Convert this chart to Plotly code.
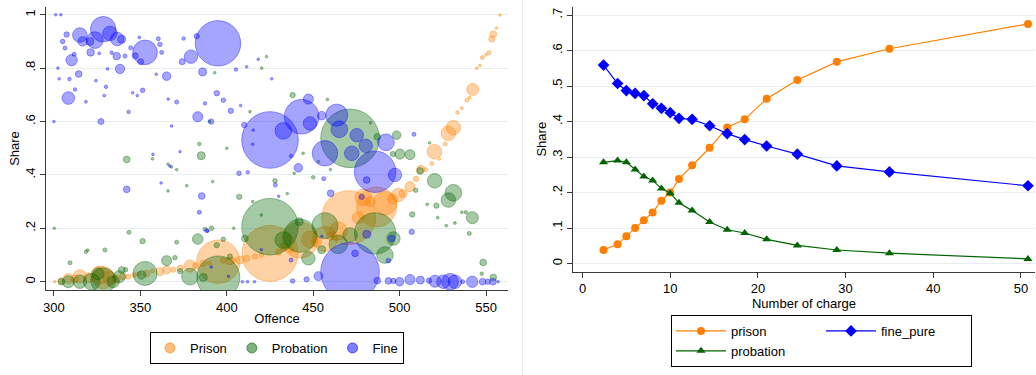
import plotly.graph_objects as go

# ---------------- Left panel: share by offence (bubble weight = cases) ----------------
prison_x = [300.5, 304, 308.3, 312, 315, 320, 326.6, 328.5, 332.4, 336,
            340, 343, 346.4, 349, 353.6, 357, 361.3, 365.2, 369, 373,
            378.7, 382, 386.4, 390, 395.1, 398, 401.8, 404, 407.6, 411.5,
            416.3, 420, 425, 430, 433, 437, 442.4, 448.1, 452, 456.8,
            460, 464.5, 470.5, 476, 479, 483, 486.7, 491.5, 496, 499.2,
            502, 506, 509.5, 512.2, 515, 518.6, 520.1, 523, 526.3, 528.2,
            531.1, 533.4, 536, 538.9, 540.5, 542.3, 544.6, 546.5, 547.9, 550,
            551.7, 553.3, 554.2, 556, 558]
prison_y = [0.0, 0.003, 0.012, 0.01, 0.02, 0.015, 0.025, 0.015, 0.013, 0.01,
            0.02, 0.019, 0.025, 0.03, 0.031, 0.04, 0.037, 0.044, 0.045, 0.05,
            0.059, 0.06, 0.069, 0.07, 0.075, 0.08, 0.078, 0.08, 0.081, 0.087,
            0.094, 0.1, 0.106, 0.11, 0.13, 0.12, 0.156, 0.159, 0.15, 0.16,
            0.17, 0.19, 0.24, 0.24, 0.316, 0.3, 0.28, 0.294, 0.31, 0.325,
            0.33, 0.356, 0.385, 0.421, 0.42, 0.443, 0.487, 0.46, 0.516, 0.556,
            0.577, 0.634, 0.65, 0.68, 0.69, 0.72, 0.80, 0.81, 0.84, 0.85,
            0.858, 0.909, 0.927, 0.95, 0.999]
prison_n = [1.5, 9, 25, 16, 45, 25, 81, 121, 45, 16,
            11, 7, 5, 4, 11, 4, 16, 16, 7, 11,
            36, 9, 11, 4, 471, 9, 16, 5, 16, 11,
            7, 5, 784, 9, 16, 7, 324, 69, 25, 156,
            16, 81, 729, 36, 69, 25, 400, 137, 25, 45,
            16, 25, 7, 16, 4, 4, 53, 2, 4, 53,
            53, 3, 2, 4, 2, 36, 2, 2, 4, 2,
            4, 9, 11, 2, 1.5]

probation_x = [304.4, 308.3, 315, 321.8, 325.5, 328.5, 334.3, 337.8, 339.2, 341.5,
               300.2, 309.3, 318.5, 319.5, 329.5, 343.4, 351.3, 350.7, 352.7, 357,
               366, 368, 371, 342.1, 365.2, 370, 371, 373, 383.2, 387.4,
               391.2, 394.2, 398, 401.8, 407.2, 410.5, 378.7, 386.4, 395.1, 393,
               384.1, 390, 385.2, 427.9, 438.1, 450, 425, 432.7, 442.4, 447.2,
               456.8, 441.9, 454.9, 464.5, 471.3, 471.3, 485.8, 491.5, 496.4, 487.1,
               498.3, 500.2, 506, 496.1, 509.3, 511.8, 520.3, 531.1, 528.2, 521.3,
               507.3, 542.1, 540.3, 538.3, 548.3, 554.2, 547.5, 516, 522, 527,
               532, 536, 413.4, 400, 391.8, 376.8, 423, 420.2, 458.2, 483.2,
               517.3, 444.2, 439, 453, 366, 420, 415, 404, 435, 460]
probation_y = [0.0, 0.0, 0.0, 0.0, 0.03, 0.005, 0.0, 0.019, 0.044, 0.045,
               0.2, 0.071, 0.112, 0.118, 0.119, 0.185, 0.152, 0.025, 0.031, 0.46,
               0.44, 0.43, 0.42, 0.458, 0.079, 0.09, 0.148, 0.04, 0.16, 0.197,
               0.2, 0.137, 0.159, 0.094, 0.318, 0.162, 0.019, 0.016, 0.016, 0.783,
               0.516, 0.60, 0.472, 0.378, 0.699, 0.391, 0.206, 0.156, 0.172, 0.088,
               0.21, 0.225, 0.12, 0.14, 0.175, 0.537, 0.181, 0.10, 0.162, 0.543,
               0.549, 0.478, 0.476, 0.478, 0.343, 0.415, 0.378, 0.333, 0.306, 0.285,
               0.252, 0.24, 0.181, 0.26, 0.072, 0.016, 0.03, 0.29, 0.24, 0.21,
               0.22, 0.26, 0.637, 0.5, 0.375, 0.36, 0.843, 0.80, 0.683, 0.595,
               0.52, 0.481, 0.406, 0.45, 0.34, 0.25, 0.3, 0.2, 0.33, 0.42]
probation_n = [11, 36, 45, 69, 36, 156, 36, 36, 11, 5,
               1.5, 4, 3, 2, 4, 4, 7, 18, 144, 1.5,
               1.5, 1.5, 1.5, 11, 25, 5, 4, 7, 28, 4,
               5, 7, 5, 7, 7, 11, 69, 16, 462, 1.5,
               3, 2, 16, 5, 7, 3, 801, 69, 272, 45,
               169, 16, 16, 86, 53, 858, 428, 69, 45, 11,
               18, 25, 25, 7, 5, 11, 53, 69, 53, 7,
               7, 36, 4, 3, 11, 11, 3, 2, 2, 2,
               2, 2, 1.5, 1.5, 1.5, 1.5, 1.5, 1.5, 1.5, 1.5,
               1.5, 1.5, 1.5, 1.5, 1.5, 1.5, 1.5, 1.5, 1.5, 1.5]

fine_x = [301, 304, 307.3, 305, 306.4, 315, 311.7, 310.2, 314.3, 309,
          312.2, 308.3, 302.3, 303, 300, 318.5, 316.6, 320.8, 323.7, 328.5,
          332.4, 336.6, 339.2, 321.2, 326.2, 331, 324.3, 330.1, 329.1, 327.2,
          333.4, 336.3, 338.2, 341.1, 344.4, 349.4, 347, 350.2, 352.7, 360.4,
          361.3, 362.3, 365.2, 359.2, 351.3, 348.2, 345.5, 343.2, 342.1, 357.3,
          367.1, 368.1, 366.1, 371, 374.2, 375, 379.3, 382.6, 386, 387.4,
          383.2, 391, 394.9, 394.2, 398, 402.3, 405.3, 411.5, 418.2, 408,
          410.1, 407.1, 412.1, 385.5, 372.9, 384.1, 388.4, 362, 389, 401,
          425, 443.3, 447.2, 432.7, 448.1, 454.9, 456.8, 441.4, 437.2, 428.1,
          456.1, 415.3, 415, 463.6, 465.1, 475.2, 480.4, 472.3, 485.8, 492.1,
          497.3, 508.3, 480.9, 460.1, 478, 471.3, 507, 481, 495.4, 493.5,
          474.2, 437.2, 446.2, 438.1, 453, 487.1, 493.5, 496.4, 500, 506,
          512, 517, 520.5, 525.3, 529.2, 532, 536.5, 542, 548, 551,
          554, 557, 409, 412, 416, 391, 430, 420, 455, 426]
fine_y = [1.0, 1.0, 0.926, 0.90, 0.875, 0.924, 0.852, 0.83, 0.778, 0.759,
          0.72, 0.688, 0.80, 0.76, 0.60, 0.674, 0.90, 0.90, 0.905, 0.946,
          0.93, 0.909, 0.908, 0.859, 0.855, 0.797, 0.753, 0.73, 0.697, 0.60,
          0.858, 0.845, 0.797, 0.845, 0.876, 0.915, 0.846, 0.824, 0.859, 0.91,
          0.889, 0.859, 0.77, 0.777, 0.717, 0.697, 0.708, 0.636, 0.346, 0.477,
          0.433, 0.583, 0.684, 0.673, 0.824, 0.911, 0.843, 0.92, 0.786, 0.668,
          0.618, 0.60, 0.893, 0.706, 0.68, 0.64, 0.795, 0.805, 0.833, 0.66,
          0.587, 0.406, 0.41, 0.321, 0.487, 0.26, 0.191, 0.37, 0.19, 0.02,
          0.531, 0.618, 0.684, 0.565, 0.593, 0.622, 0.481, 0.427, 0.471, 0.362,
          0.386, 0.568, 0.515, 0.624, 0.571, 0.549, 0.509, 0.481, 0.412, 0.522,
          0.40, 0.552, 0.381, 0.331, 0.318, 0.037, 0.187, 0.178, 0.162, 0.079,
          0.106, 0.081, 0.009, 0.003, 0.021, 0.004, 0.003, 0.003, 0.0, 0.008,
          0.006, 0.004, 0.002, 0.0, 0.0, 0.0, 0.0, 0.0, 0.0, 0.0,
          0.0, 0.0, 0.0, 0.0, 0.0, 0.055, 0.32, 0.12, 0.17, 0.76]
fine_n = [1.5, 1.5, 7, 5, 4, 53, 4, 32, 11, 3,
          3, 40, 1.5, 1.5, 1.5, 2, 22, 16, 69, 161,
          53, 45, 16, 14, 2, 2, 2, 3, 2, 9,
          3, 14, 22, 4, 4, 2, 9, 9, 151, 4,
          5, 4, 18, 1.5, 5, 1.5, 1.5, 3, 11, 1.5,
          1.5, 1.5, 1.5, 4, 9, 3, 45, 7, 16, 3,
          25, 7, 515, 7, 5, 7, 3, 1.5, 1.5, 1.5,
          7, 5, 3, 11, 1.5, 4, 4, 1.5, 1.5, 1.5,
          801, 300, 25, 69, 45, 18, 161, 18, 3, 4,
          4, 1.5, 1.5, 121, 69, 45, 45, 53, 428, 69,
          45, 4, 11, 11, 7, 858, 7, 16, 11, 5,
          11, 4, 7, 5, 20, 11, 11, 7, 18, 25,
          16, 7, 36, 45, 69, 45, 4, 32, 11, 7,
          11, 1.5, 1.5, 1.5, 1.5, 1.5, 1.5, 1.5, 1.5, 1.5]

left_xticks = [300, 350, 400, 450, 500, 550]
left_yticks = [0, 0.2, 0.4, 0.6, 0.8, 1]
left_yticktext = ["0", ".2", ".4", ".6", ".8", "1"]

# ---------------- Right panel: share by number of charges ----------------
charges = [2.4, 4, 5, 6, 7, 8, 9, 10, 11, 12.5, 14.5, 16.5, 18.5, 21, 24.5, 29, 35, 50.8]
prison_share = [0.038, 0.054, 0.077, 0.100, 0.122, 0.144, 0.177, 0.200, 0.238, 0.277,
                0.326, 0.383, 0.406, 0.464, 0.517, 0.568, 0.605, 0.675]
probation_share = [0.285, 0.290, 0.285, 0.265, 0.245, 0.234, 0.211, 0.198, 0.171, 0.149,
                   0.117, 0.095, 0.086, 0.068, 0.051, 0.038, 0.029, 0.013]
fine_pure_share = [0.559, 0.507, 0.487, 0.479, 0.473, 0.450, 0.437, 0.425, 0.409, 0.406,
                   0.388, 0.366, 0.349, 0.331, 0.308, 0.275, 0.258, 0.219]

right_xticks = [0, 10, 20, 30, 40, 50]
right_yticks = [0, 0.1, 0.2, 0.3, 0.4, 0.5, 0.6, 0.7]
right_yticktext = ["0", ".1", ".2", ".3", ".4", ".5", ".6", ".7"]

# ---------------- figure ----------------
W, H = 1036, 375
ORANGE = "255,127,0"
GREEN = "0,100,0"
BLUE = "0,0,255"
FONT = "Liberation Sans, Arial, sans-serif"

fig = go.Figure()


def bubble(x, y, n, name, rgb):
    return go.Scatter(
        x=x, y=y, mode="markers", name=name, xaxis="x", yaxis="y",
        showlegend=False, legendgroup=name,
        marker=dict(size=n, sizemode="area", sizeref=0.5, sizemin=1.3,
                    color=f"rgba({rgb},0.5)",
                    line=dict(color=f"rgba({rgb},0.75)", width=0.8)),
        hoverinfo="x+y+name",
    )


def legend_key(name, rgb):
    # legend entry for the bubble series (fixed-size key, as in the original legend)
    return go.Scatter(
        x=[None], y=[None], mode="markers", name=name, xaxis="x", yaxis="y",
        legend="legend", legendgroup=name, showlegend=True,
        marker=dict(size=10, color=f"rgba({rgb},0.5)",
                    line=dict(color=f"rgba({rgb},0.75)", width=0.8)),
    )


fig.add_trace(bubble(prison_x, prison_y, prison_n, "Prison", ORANGE))
fig.add_trace(bubble(probation_x, probation_y, probation_n, "Probation", GREEN))
fig.add_trace(bubble(fine_x, fine_y, fine_n, "Fine", BLUE))
fig.add_trace(legend_key("Prison", ORANGE))
fig.add_trace(legend_key("Probation", GREEN))
fig.add_trace(legend_key("Fine", BLUE))

fig.add_trace(go.Scatter(
    x=charges, y=prison_share, mode="lines+markers", name="prison",
    xaxis="x2", yaxis="y2", legend="legend2", legendgroup="a",
    line=dict(color=f"rgb({ORANGE})", width=1.2),
    marker=dict(symbol="circle", size=8, color=f"rgb({ORANGE})")))
fig.add_trace(go.Scatter(
    x=charges, y=probation_share, mode="lines+markers", name="probation",
    xaxis="x2", yaxis="y2", legend="legend2", legendgroup="a",
    line=dict(color=f"rgb({GREEN})", width=1.2),
    marker=dict(symbol="triangle-up", size=8, color=f"rgb({GREEN})")))
fig.add_trace(go.Scatter(
    x=charges, y=fine_pure_share, mode="lines+markers", name="fine_pure",
    xaxis="x2", yaxis="y2", legend="legend2", legendgroup="b",
    line=dict(color=f"rgb({BLUE})", width=1.2),
    marker=dict(symbol="diamond", size=9, color=f"rgb({BLUE})")))

axis_style = dict(
    showline=True, linecolor="#3a3a3a", linewidth=1.3,
    ticks="outside", ticklen=5, tickwidth=1, tickcolor="#3a3a3a",
    zeroline=False, automargin=False,
    tickfont=dict(size=13, color="black", family=FONT),
)
grid = dict(showgrid=True, gridcolor="#e6eef0", gridwidth=1)


def px_x(p):
    return p / W


def px_y(p):
    return 1 - p / H


fig.update_layout(
    width=W, height=H, template="none",
    margin=dict(l=0, r=0, t=0, b=0),
    paper_bgcolor="white", plot_bgcolor="white",
    font=dict(family=FONT, size=13, color="black"),
    xaxis=dict(axis_style, domain=[px_x(46), px_x(508)], range=[295.4, 562.7],
               tickvals=left_xticks, showgrid=False, anchor="y",
               title=dict(text="Offence", font=dict(size=13), standoff=0)),
    yaxis=dict(axis_style, **grid, domain=[px_y(290), px_y(7)], range=[-0.031, 1.029],
               tickvals=left_yticks, ticktext=left_yticktext, tickangle=-90, anchor="x",
               title=dict(text="Share", font=dict(size=13), standoff=0)),
    xaxis2=dict(axis_style, domain=[px_x(573), px_x(1035)], range=[-1.083, 51.6],
                tickvals=right_xticks, showgrid=False, anchor="y2",
                title=dict(text="Number of charge", font=dict(size=13), standoff=0)),
    yaxis2=dict(axis_style, **grid, domain=[px_y(271.7), px_y(6.7)], range=[-0.0231, 0.7234],
                tickvals=right_yticks, ticktext=right_yticktext, tickangle=-90, anchor="x2",
                title=dict(text="Share", font=dict(size=13), standoff=0)),
    legend=dict(orientation="h", x=px_x(277), y=px_y(332), xanchor="center", yanchor="top",
                bordercolor="black", borderwidth=1, itemsizing="trace", itemwidth=30,
                font=dict(size=13), bgcolor="white"),
    legend2=dict(orientation="h", traceorder="grouped", x=px_x(671), y=px_y(315),
                 xanchor="left", yanchor="top", bordercolor="black", borderwidth=1,
                 font=dict(size=13), bgcolor="white", itemwidth=50, tracegroupgap=0,
                 entrywidth=85),
    showlegend=True,
)

# faint separator between the two graph regions
fig.add_shape(type="line", xref="paper", yref="paper", x0=px_x(522.5), x1=px_x(522.5),
              y0=0, y1=1, line=dict(color="#e4ecf0", width=1))

fig.write_html("out.html")
